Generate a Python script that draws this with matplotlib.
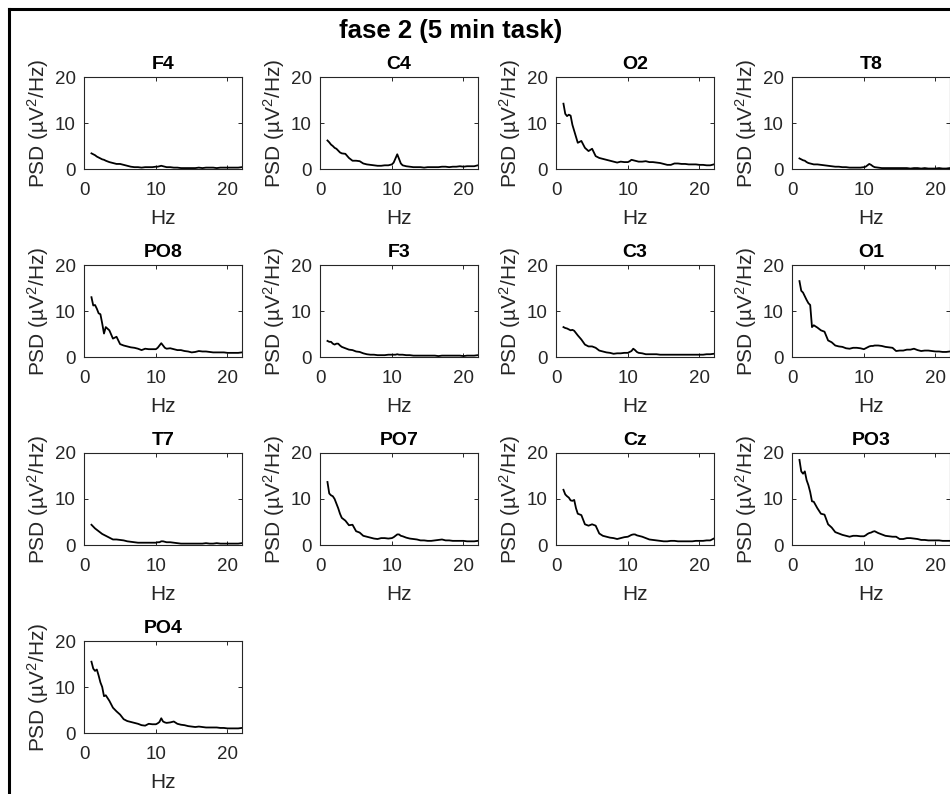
import numpy as np
import matplotlib
matplotlib.use('Agg')
import matplotlib.pyplot as plt
from matplotlib.lines import Line2D

plt.rcParams['font.family'] = ['Liberation Sans', 'DejaVu Sans']
plt.rcParams['mathtext.fontset'] = 'custom'
plt.rcParams['mathtext.rm'] = 'Liberation Sans'
plt.rcParams['mathtext.default'] = 'regular'

# Eixo de frequencia (Hz), mais fino nas regioes com mais detalhe
freqs = [1, 1.25, 1.5, 1.75, 2, 2.25, 2.5, 2.75,
         3, 3.5, 4, 4.5, 5, 5.5, 6, 6.5, 7, 7.5, 8, 8.5, 9, 9.5, 10,
         10.25, 10.5, 10.75, 11, 11.25, 11.5,
         12, 12.5, 13, 13.5, 14, 14.5, 15, 15.5, 16, 16.5, 17, 17.5,
         18, 18.5, 19, 19.5, 20, 20.5, 21, 21.5, 22]

canais = ['F4', 'C4', 'O2', 'T8', 'PO8', 'F3', 'C3', 'O1', 'T7', 'PO7', 'Cz', 'PO3', 'PO4']

# PSD (uV^2/Hz), um vetor por canal
psd_F4 = [3.4, 3.2, 3.0, 2.7, 2.5, 2.3, 2.1, 2.0,
          1.8, 1.5, 1.3, 1.1, 1.1, 0.9, 0.7, 0.5, 0.4, 0.4, 0.3, 0.4, 0.4, 0.4, 0.5,
          0.5, 0.6, 0.7, 0.6, 0.5, 0.4,
          0.4, 0.3, 0.3, 0.2, 0.2, 0.2, 0.2, 0.2, 0.3, 0.2, 0.3, 0.3,
          0.3, 0.2, 0.3, 0.3, 0.3, 0.3, 0.3, 0.3, 0.4]
psd_C4 = [6.2, 5.8, 5.3, 5.0, 4.6, 4.4, 4.0, 3.6,
          3.4, 3.3, 2.4, 1.8, 1.8, 1.7, 1.2, 1.0, 0.9, 0.8, 0.7, 0.7, 0.8, 0.8, 1.0,
          1.4, 2.3, 3.2, 2.2, 1.2, 0.8,
          0.6, 0.5, 0.4, 0.4, 0.4, 0.3, 0.4, 0.4, 0.4, 0.4, 0.5, 0.5,
          0.4, 0.5, 0.5, 0.6, 0.5, 0.6, 0.6, 0.6, 0.8]
psd_O2 = [14.2, 12.0, 11.5, 11.8, 11.6, 9.6, 8.3, 7.0,
          5.7, 6.1, 4.6, 3.9, 4.4, 2.8, 2.4, 2.2, 2.0, 1.8, 1.6, 1.4, 1.6, 1.5, 1.5,
          1.7, 2.0, 1.9, 1.8, 1.7, 1.6,
          1.6, 1.7, 1.5, 1.5, 1.4, 1.3, 1.1, 0.9, 0.9, 1.2, 1.2, 1.1,
          1.1, 1.0, 1.0, 1.0, 0.9, 0.9, 0.8, 0.8, 1.0]
psd_T8 = [2.3, 2.1, 1.9, 1.8, 1.5, 1.3, 1.2, 1.1,
          1.0, 1.0, 0.9, 0.8, 0.7, 0.6, 0.5, 0.5, 0.4, 0.4, 0.3, 0.3, 0.3, 0.3, 0.4,
          0.5, 0.8, 1.1, 0.9, 0.6, 0.4,
          0.3, 0.2, 0.2, 0.2, 0.2, 0.2, 0.2, 0.2, 0.2, 0.1, 0.2, 0.2,
          0.1, 0.2, 0.1, 0.1, 0.1, 0.2, 0.1, 0.1, 0.2]
psd_PO8 = [13.0, 11.2, 11.3, 10.5, 9.5, 9.3, 7.3, 5.1,
           6.5, 5.8, 4.0, 4.4, 2.8, 2.5, 2.3, 2.1, 2.0, 1.8, 1.5, 1.8, 1.7, 1.7, 1.7,
           2.0, 2.5, 3.0, 2.5, 2.0, 1.8,
           1.9, 1.7, 1.5, 1.5, 1.3, 1.2, 1.0, 1.1, 1.3, 1.2, 1.2, 1.1,
           1.0, 1.0, 1.0, 1.0, 0.9, 0.9, 0.9, 0.9, 1.0]
psd_F3 = [3.5, 3.3, 3.3, 2.9, 2.7, 2.9, 2.9, 2.5,
          2.2, 1.9, 1.6, 1.5, 1.2, 1.1, 0.8, 0.6, 0.5, 0.5, 0.4, 0.4, 0.4, 0.5, 0.5,
          0.5, 0.5, 0.6, 0.5, 0.5, 0.5,
          0.4, 0.4, 0.3, 0.3, 0.3, 0.3, 0.3, 0.3, 0.3, 0.2, 0.3, 0.3,
          0.3, 0.3, 0.3, 0.3, 0.2, 0.3, 0.3, 0.3, 0.4]
psd_C3 = [6.5, 6.3, 6.2, 6.0, 5.8, 5.9, 5.7, 5.2,
          4.7, 3.8, 2.7, 2.3, 2.3, 2.0, 1.4, 1.2, 1.0, 0.9, 0.7, 0.8, 0.8, 0.9, 0.9,
          1.1, 1.3, 1.8, 1.5, 1.1, 0.9,
          0.8, 0.6, 0.6, 0.6, 0.6, 0.5, 0.5, 0.5, 0.5, 0.5, 0.5, 0.5,
          0.5, 0.5, 0.5, 0.5, 0.5, 0.5, 0.6, 0.6, 0.7]
psd_O1 = [16.5, 14.4, 14.0, 13.2, 12.4, 11.7, 11.3, 6.5,
          6.9, 6.4, 5.8, 5.5, 3.6, 3.2, 2.5, 2.3, 2.2, 1.9, 1.8, 2.0, 2.0, 1.9, 1.7,
          1.9, 2.1, 2.3, 2.4, 2.4, 2.5,
          2.5, 2.4, 2.2, 2.1, 2.0, 1.3, 1.4, 1.4, 1.6, 1.6, 1.8, 1.5,
          1.3, 1.4, 1.4, 1.3, 1.2, 1.2, 1.1, 1.1, 1.2]
psd_T7 = [4.4, 4.0, 3.6, 3.3, 3.0, 2.7, 2.4, 2.2,
          2.0, 1.6, 1.2, 1.2, 1.1, 1.0, 0.8, 0.7, 0.6, 0.5, 0.5, 0.5, 0.5, 0.5, 0.5,
          0.6, 0.6, 0.8, 0.8, 0.7, 0.6,
          0.6, 0.5, 0.4, 0.3, 0.3, 0.3, 0.3, 0.3, 0.3, 0.3, 0.4, 0.3,
          0.3, 0.4, 0.3, 0.3, 0.3, 0.3, 0.3, 0.3, 0.4]
psd_PO7 = [13.7, 11.2, 10.8, 10.6, 10.0, 9.0, 8.0, 6.8,
           5.9, 5.3, 4.3, 4.4, 3.0, 2.7, 2.0, 1.8, 1.6, 1.4, 1.3, 1.5, 1.5, 1.4, 1.5,
           1.7, 2.0, 2.3, 2.3, 2.0, 1.9,
           1.6, 1.4, 1.3, 1.2, 1.0, 1.0, 0.9, 0.9, 1.0, 1.1, 1.2, 1.0,
           1.0, 0.9, 0.9, 0.9, 0.9, 0.8, 0.8, 0.8, 0.9]
psd_Cz = [12.0, 11.0, 10.6, 10.3, 9.7, 9.6, 9.8, 8.0,
          6.8, 6.5, 4.5, 4.2, 4.5, 4.2, 2.5, 2.0, 1.8, 1.6, 1.5, 1.3, 1.5, 1.7, 1.8,
          2.0, 2.2, 2.3, 2.3, 2.1, 2.0,
          1.8, 1.5, 1.2, 1.1, 1.0, 0.9, 0.8, 0.8, 0.9, 0.9, 0.8, 0.8,
          0.8, 0.8, 0.8, 0.9, 0.9, 0.9, 1.0, 1.0, 1.4]
psd_PO3 = [18.5, 16.0, 15.5, 16.0, 14.1, 13.0, 11.5, 9.5,
           9.4, 8.0, 6.8, 6.6, 4.5, 3.8, 2.8, 2.5, 2.2, 2.0, 1.8, 2.0, 2.0, 1.9, 1.9,
           2.1, 2.4, 2.6, 2.7, 2.9, 3.0,
           2.6, 2.3, 2.0, 1.9, 1.8, 1.8, 1.3, 1.3, 1.5, 1.5, 1.4, 1.3,
           1.1, 1.1, 1.0, 1.0, 1.0, 1.0, 0.9, 0.9, 0.9]
psd_PO4 = [15.5, 14.0, 13.5, 13.8, 12.5, 11.0, 10.0, 8.0,
           8.2, 7.0, 5.5, 4.7, 4.0, 3.0, 2.6, 2.4, 2.2, 2.0, 1.7, 1.6, 2.0, 1.9, 1.9,
           2.1, 2.4, 3.2, 2.5, 2.3, 2.2,
           2.3, 2.5, 2.0, 1.8, 1.7, 1.5, 1.4, 1.3, 1.4, 1.3, 1.2, 1.2,
           1.2, 1.2, 1.1, 1.1, 1.0, 1.0, 1.0, 1.0, 1.1]

psds = [psd_F4, psd_C4, psd_O2, psd_T8, psd_PO8, psd_F3, psd_C3,
        psd_O1, psd_T7, psd_PO7, psd_Cz, psd_PO3, psd_PO4]

W, H = 950, 794
fig = plt.figure(figsize=(W / 100, H / 100), dpi=100)
fig.patch.set_facecolor('white')

# moldura da figura (so aparece a esquerda e em cima)
fig.add_artist(Line2D([9 / W, 9 / W], [0, 1 - 8.7 / H], transform=fig.transFigure,
                      color='k', lw=2.2))
fig.add_artist(Line2D([9 / W, 1], [1 - 8.7 / H, 1 - 8.7 / H], transform=fig.transFigure,
                      color='k', lw=2.2, solid_capstyle='projecting'))

fig.text(451 / W, 1 - 38 / H, 'fase 2 (5 min task)', ha='center', va='baseline',
         fontsize=18.5, fontweight='bold')

cinza = '#262626'
ax_w, ax_h = 157.5, 92
for i, (nome, psd) in enumerate(zip(canais, psds)):
    lin, col = divmod(i, 4)
    left = 84.3 + 236 * col
    top = 77 + 188 * lin
    ax = fig.add_axes([left / W, 1 - (top + ax_h) / H, ax_w / W, ax_h / H])
    ax.plot(freqs, psd, color='k', lw=1.3)
    ax.set_xlim(0, 22)
    ax.set_ylim(0, 20)
    ax.set_xticks([0, 10, 20])
    ax.set_yticks([0, 10, 20])
    ax.tick_params(direction='in', top=True, right=True, length=3, width=0.7,
                   color=cinza, labelcolor=cinza, labelsize=13.5)
    ax.tick_params(axis='x', pad=9.5)
    ax.tick_params(axis='y', pad=6)
    for s in ax.spines.values():
        s.set_color(cinza)
        s.set_linewidth(0.8)
    ax.set_title(nome, fontsize=14, fontweight='bold', pad=5.5)
    ax.set_xlabel('Hz', fontsize=15, color=cinza, labelpad=7)
    ax.set_ylabel('PSD (µV$^{2}$/Hz)', fontsize=15, color=cinza, labelpad=3)

fig.savefig('out.png', dpi=100, facecolor='white')
